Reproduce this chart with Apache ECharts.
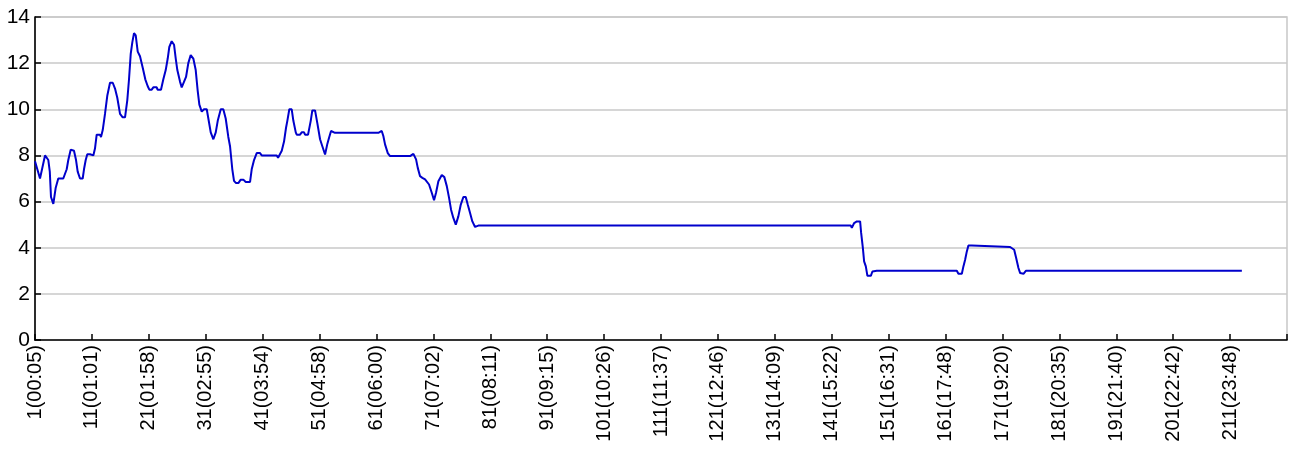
<!DOCTYPE html>
<html>
<head>
<meta charset="utf-8">
<script src="https://cdn.jsdelivr.net/npm/echarts@6/dist/echarts.min.js"></script>
<style>
html,body{margin:0;padding:0;background:#fff;}
#chart{width:1290px;height:454px;}
</style>
</head>
<body>
<div id="chart"></div>
<script>
// Tick labels shown every 10 items (item number and time)
var tickLabels = ['1(00:05)','11(01:01)','21(01:58)','31(02:55)','41(03:54)','51(04:58)','61(06:00)','71(07:02)',
  '81(08:11)','91(09:15)','101(10:26)','111(11:37)','121(12:46)','131(14:09)','141(15:22)','151(16:31)',
  '161(17:48)','171(19:20)','181(20:35)','191(21:40)','201(22:42)','211(23:48)'];
var yTicks = [0, 2, 4, 6, 8, 10, 12, 14];

// Sample positions along the axis (in item steps after item 1) and their values
var samplePos = [0.00,0.88,1.23,1.76,2.10,2.34,2.60,2.81,3.22,3.64,4.09,4.97,5.27,5.57,5.85,6.27,6.85,7.21,7.50,7.91,8.38,8.61,8.91,9.19,9.67,9.96,10.25,10.54,10.84,11.42,11.60,11.90,12.30,12.71,13.18,13.66,14.06,14.46,14.94,15.41,15.82,16.22,16.52,16.82,17.10,17.40,17.70,18.05,18.45,18.93,19.38,19.81,20.09,20.51,20.79,21.39,21.53,22.14,22.55,22.97,23.32,23.60,24.02,24.43,24.73,25.01,25.48,25.78,26.06,26.54,26.94,27.36,27.82,28.24,28.59,28.88,29.30,29.70,30.18,30.46,30.88,31.34,31.76,32.11,32.64,33.09,33.51,33.97,34.27,34.67,34.97,35.33,35.73,36.15,36.61,37.03,37.79,38.08,38.49,38.96,39.54,39.84,42.48,42.71,43.06,43.36,43.76,44.11,44.34,44.69,45.11,45.40,45.82,45.99,46.57,46.87,47.28,47.45,47.98,48.45,48.73,49.21,49.61,50.09,50.49,50.97,51.37,51.67,52.02,52.72,60.33,60.93,61.21,61.51,61.99,62.39,65.91,66.49,66.96,67.26,67.66,68.07,68.54,68.84,69.24,69.72,70.12,70.47,70.88,71.48,71.93,72.36,72.76,73.11,73.51,73.94,74.39,74.82,75.27,75.69,76.04,76.45,76.85,77.33,77.91,143.36,143.53,143.94,144.41,144.99,145.17,145.47,145.69,145.99,146.27,146.87,147.15,147.45,147.92,161.98,162.26,162.86,163.14,163.44,163.74,164.02,164.62,164.90,171.35,171.65,172.06,172.41,172.81,173.11,173.69,174.11,212.07];
var sampleValue = [7.75,7.0,7.0,8.0,8.0,7.8,7.3,6.2,5.9,6.6,7.0,7.0,7.0,7.4,7.8,8.25,8.2,7.8,7.3,7.0,7.0,7.4,7.8,8.05,8.05,8.0,8.0,8.3,8.9,8.9,8.8,9.1,9.8,10.6,11.15,11.15,10.9,10.5,9.8,9.65,9.65,10.4,11.3,12.4,12.9,13.3,13.2,12.5,12.3,11.8,11.3,11.0,10.85,10.85,10.95,10.95,10.85,10.85,11.3,11.7,12.2,12.7,12.95,12.8,12.2,11.7,11.2,10.95,10.95,11.4,12.0,12.35,12.2,11.7,10.8,10.2,9.9,10.0,10.0,9.6,9.0,8.7,9.0,9.5,10.0,10.0,9.6,8.8,8.4,7.4,6.9,6.8,6.8,6.95,6.95,6.85,6.85,7.4,7.8,8.1,8.1,8.0,8.0,7.9,7.9,8.2,8.6,9.2,9.5,10.0,10.0,9.5,9.0,8.9,8.9,9.0,9.0,8.9,8.9,9.5,9.95,9.95,9.4,8.7,8.4,8.04,8.5,8.77,9.06,8.98,8.98,9.06,8.84,8.48,8.1,7.97,7.97,8.07,7.83,7.46,7.1,7.03,6.96,7.03,6.74,6.38,6.06,6.38,6.88,7.15,7.06,6.67,6.16,5.65,5.29,5.0,5.36,5.87,6.2,6.2,5.87,5.5,5.14,4.9,4.96,4.96,4.86,5.07,5.14,5.14,4.64,3.99,3.41,3.19,2.78,2.78,2.97,3.04,3.0,3.0,2.87,2.87,3.19,3.48,3.84,4.1,4.1,4.03,4.03,4.1,3.91,3.55,3.12,2.9,2.87,3.0,3.0];

var seriesData = samplePos.map(function (p, i) { return [p, sampleValue[i]]; });

var chart = echarts.init(document.getElementById('chart'), null, {renderer: 'canvas'});
chart.setOption({
  animation: false,
  backgroundColor: '#ffffff',
  grid: {left: 35, right: 3, top: 17, bottom: 114, show: true, borderColor: '#c8c8c8', borderWidth: 1.5, containLabel: false},
  xAxis: {
    type: 'value',
    min: 0,
    max: 220,
    interval: 10,
    axisLine: {show: true, onZero: false, lineStyle: {color: '#000', width: 1.6}},
    axisTick: {show: true, inside: true, length: 6, lineStyle: {color: '#000', width: 1.5}},
    splitLine: {show: false},
    axisLabel: {
      rotate: 90,
      margin: 5,
      color: '#000',
      fontFamily: 'Liberation Sans, Arial, sans-serif',
      fontSize: 20,
      showMaxLabel: true,
      formatter: function (v) {
        var k = Math.round(v / 10);
        return tickLabels[k] !== undefined ? tickLabels[k] : '';
      }
    }
  },
  yAxis: {
    type: 'value',
    min: yTicks[0],
    max: yTicks[yTicks.length - 1],
    interval: 2,
    axisLine: {show: true, lineStyle: {color: '#000', width: 1.6}},
    axisTick: {show: true, inside: true, length: 6, lineStyle: {color: '#000', width: 1.5}},
    splitLine: {show: true, lineStyle: {color: '#c8c8c8', width: 1.5}},
    axisLabel: {
      margin: 5,
      color: '#000',
      fontFamily: 'Liberation Sans, Arial, sans-serif',
      fontSize: 21
    }
  },
  series: [{
    type: 'line',
    data: seriesData,
    showSymbol: false,
    symbol: 'none',
    lineStyle: {color: '#0000cc', width: 2},
    z: 3
  }]
});
</script>
</body>
</html>
